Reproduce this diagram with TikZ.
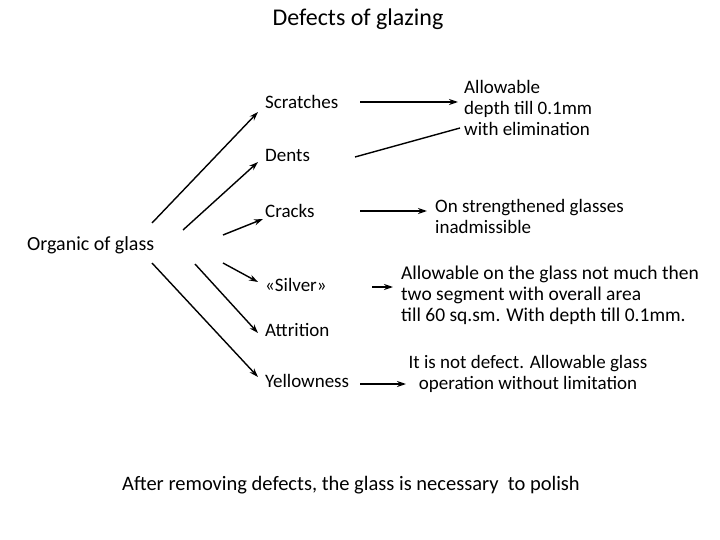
\documentclass[tikz,border=0pt]{standalone}
\usepackage{fontspec}
\setmainfont{Carlito}
\usetikzlibrary{arrows.meta}
\begin{document}
\begin{tikzpicture}[x=1pt,y=-1pt,
  lbl/.style={anchor=west,inner sep=0,font=\fontsize{19}{21}\selectfont},
  txt/.style={align=left,inner sep=0,font=\fontsize{19}{21}\selectfont},
  arr/.style={line width=1.4pt,-{Stealth[length=9pt,width=6pt]}},
  ln/.style={line width=1.4pt}]
\useasboundingbox (0,0) rectangle (720,540);
\node[inner sep=0,font=\fontsize{24}{26}\selectfont] (title) at (358,19) {Defects of glazing};
\node[inner sep=0,anchor=west,font=\fontsize{20}{22}\selectfont] (org) at (27,245) {Organic of glass};
\node[lbl] (scr) at (265,102) {Scratches};
\node[lbl] (den) at (265,155) {Dents};
\node[lbl] (cra) at (265,211) {Cracks};
\node[lbl] (sil) at (265,285) {«Silver»};
\node[lbl] (att) at (265,330) {Attrition};
\node[lbl] (yel) at (265,381) {Yellowness};
\node[txt,anchor=west] (t1) at (464,108) {Allowable\\depth till 0.1mm\\with elimination};
\node[txt,anchor=west] (t2) at (435,216) {On strengthened glasses\\inadmissible};
\node[txt,anchor=west,font=\fontsize{19.5}{21}\selectfont] (t3) at (401,295) {Allowable on the glass not much then\\two segment with overall area\\till 60 sq.sm. With depth till 0.1mm.};
\node[txt,align=center] (t4) at (528,374) {It is not defect. Allowable glass\\operation without limitation};
\node[inner sep=0,font=\fontsize{20.5}{22}\selectfont] (foot) at (351,485) {After removing defects, the glass is necessary\ \ to polish};
\coordinate (a1) at (152,223); \coordinate (a2) at (183,230);
\coordinate (a3) at (223,235); \coordinate (a4) at (223,263);
\coordinate (a5) at (195,264); \coordinate (a6) at (152,263);
\draw[arr] (a1) -- (258,112);
\draw[arr] (a2) -- (258,162);
\draw[arr] (a3) -- (263,219);
\draw[arr] (a4) -- (258,282);
\draw[arr] (a5) -- (258,333);
\draw[arr] (a6) -- (258,377);
\coordinate (s0) at (360,102); \coordinate (s1) at (458,102);
\draw[arr] (s0) -- (s1);
\coordinate (d0) at (355,157); \coordinate (d1) at (460,128);
\draw[ln] (d0) -- (d1);
\draw[arr] (360,211) -- (427,211);
\draw[arr] (372,287) -- (393,287);
\draw[arr] (360,384) -- (406,384);
\end{tikzpicture}
\end{document}
